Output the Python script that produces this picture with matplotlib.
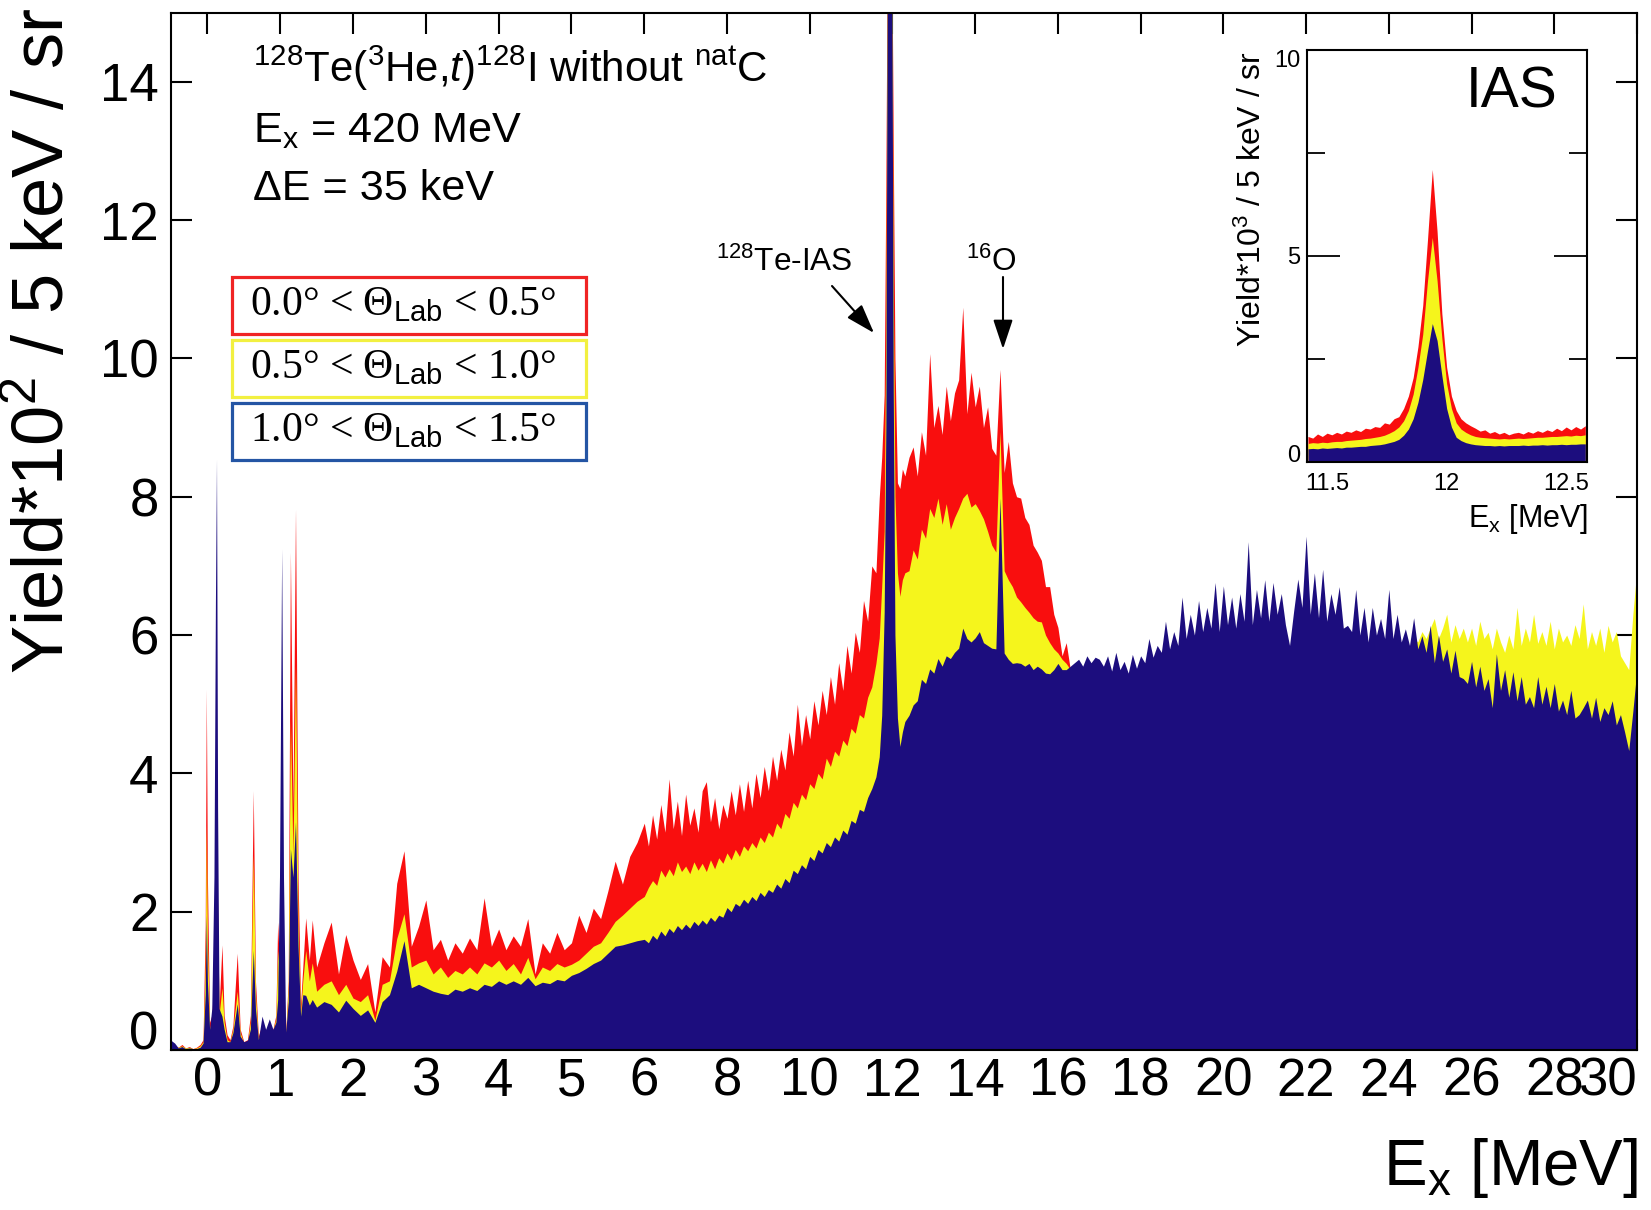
import numpy as np
import matplotlib.pyplot as plt
from matplotlib import font_manager
from matplotlib.patches import Rectangle


def has_font(name):
    try:
        font_manager.findfont(name, fallback_to_default=False)
        return True
    except ValueError:
        return False


HAVE_NARROW = has_font('Liberation Sans Narrow')
NARROW = 'Liberation Sans Narrow' if HAVE_NARROW else 'Liberation Sans'
NSCALE = 1.0 if HAVE_NARROW else 0.84

plt.rcParams['font.family'] = ['Liberation Sans', 'DejaVu Sans']
plt.rcParams['mathtext.fontset'] = 'custom'
plt.rcParams['mathtext.rm'] = 'Liberation Sans'
plt.rcParams['mathtext.it'] = 'Liberation Sans:italic'
plt.rcParams['mathtext.sf'] = 'Liberation Sans'
plt.rcParams['mathtext.bf'] = 'Liberation Sans:bold'

# ---------------- main spectrum data (Yield * 10^2 / 5 keV / sr) ----------------
# low-lying region, explicit energies (MeV)
ex_low = [-0.50, -0.45, -0.40, -0.35, -0.30, -0.25, -0.20, -0.15, -0.10, -0.06,
          -0.03, -0.015, 0.00, 0.03, 0.06, 0.09, 0.11, 0.125, 0.14, 0.16,
          0.20, 0.23, 0.27, 0.31, 0.35, 0.41, 0.45, 0.50, 0.55, 0.59,
          0.63, 0.66, 0.70, 0.75, 0.80, 0.85, 0.90, 0.94, 0.965, 0.99,
          1.02, 1.045, 1.075, 1.11, 1.14, 1.175, 1.21, 1.245, 1.28, 1.31,
          1.35, 1.40, 1.44]
red_low = [0.10, 0.06, 0.04, 0.08, 0.03, 0.05, 0.02, 0.04, 0.08, 0.15,
           1.80, 5.22, 2.50, 0.40, 0.50, 1.00, 3.00, 4.00, 2.00, 0.60,
           1.52, 0.50, 0.22, 0.15, 0.35, 1.40, 0.30, 0.12, 0.15, 0.50,
           3.75, 1.00, 0.20, 0.37, 0.20, 0.30, 0.30, 0.50, 1.85, 1.20,
           1.50, 1.00, 0.26, 1.00, 7.20, 3.50, 7.82, 2.50, 0.67, 1.20,
           1.91, 1.30, 1.88]
yel_low = [0.08, 0.05, 0.04, 0.06, 0.03, 0.04, 0.02, 0.03, 0.06, 0.12,
           1.20, 3.26, 1.60, 0.30, 0.45, 1.00, 3.00, 4.00, 2.00, 0.50,
           0.90, 0.40, 0.15, 0.12, 0.30, 0.85, 0.25, 0.10, 0.12, 0.40,
           2.82, 0.80, 0.15, 0.30, 0.18, 0.25, 0.28, 0.45, 1.44, 1.10,
           1.50, 1.00, 0.22, 0.90, 4.77, 2.80, 5.57, 1.80, 0.55, 1.00,
           1.44, 1.00, 1.26]
blu_low = [0.14, 0.10, 0.03, 0.05, 0.02, 0.03, 0.02, 0.02, 0.04, 0.10,
           0.80, 1.95, 1.00, 0.30, 0.60, 2.50, 6.45, 8.55, 3.50, 0.60,
           0.49, 0.30, 0.12, 0.12, 0.25, 0.67, 0.20, 0.12, 0.14, 0.30,
           1.44, 0.60, 0.15, 0.49, 0.30, 0.45, 0.30, 0.40, 0.73, 2.50,
           7.25, 2.50, 0.26, 0.70, 2.91, 2.50, 3.30, 1.50, 0.49, 0.80,
           0.79, 0.65, 0.73]

# 1.5 - 5.9 MeV, 0.1 MeV steps
ex_b = np.round(np.arange(1.5, 5.95, 0.1), 2)
red_b = [1.20, 1.55, 1.85, 1.10, 1.67, 1.30, 1.02, 1.25, 0.55, 1.35,
         1.20, 2.41, 2.88, 1.50, 1.79, 2.17, 1.45, 1.60, 1.30, 1.55,
         1.40, 1.62, 1.45, 2.20, 1.50, 1.75, 1.45, 1.65, 1.50, 1.90,
         1.10, 1.55, 1.40, 1.70, 1.45, 1.55, 1.95, 1.70, 2.05, 1.90,
         2.30, 2.73, 2.40, 2.80, 3.00]
yel_b = [0.85, 0.95, 1.00, 0.80, 0.95, 0.75, 0.70, 0.80, 0.43, 0.95,
         1.00, 1.61, 1.97, 1.20, 1.26, 1.30, 1.10, 1.20, 1.05, 1.15,
         1.10, 1.20, 1.10, 1.26, 1.20, 1.30, 1.15, 1.25, 1.10, 1.34,
         1.03, 1.20, 1.15, 1.25, 1.20, 1.24, 1.30, 1.40, 1.50, 1.55,
         1.70, 1.86, 1.95, 2.05, 2.15]
blu_b = [0.62, 0.70, 0.66, 0.55, 0.72, 0.60, 0.50, 0.58, 0.40, 0.70,
         0.80, 1.14, 1.58, 0.90, 0.95, 0.90, 0.85, 0.82, 0.80, 0.88,
         0.85, 0.90, 0.86, 0.95, 0.92, 1.00, 0.95, 1.00, 0.95, 1.05,
         0.93, 0.98, 0.96, 1.02, 1.00, 1.08, 1.12, 1.18, 1.25, 1.30,
         1.40, 1.50, 1.52, 1.55, 1.58]

# 6.0 - 11.6 MeV, 0.1 MeV steps
ex_c = np.round(np.arange(6.0, 11.65, 0.1), 2)
red_c = [3.28, 2.95, 3.40, 3.05, 3.55, 3.15, 3.92, 3.20, 3.60, 3.10,
         3.70, 3.25, 3.50, 3.15, 3.75, 3.88, 3.30, 3.65, 3.20, 3.55,
         3.35, 3.75, 3.40, 3.85, 3.45, 3.90, 3.50, 4.00, 3.65, 4.10,
         3.75, 4.25, 3.90, 4.35, 4.05, 4.60, 4.25, 5.00, 4.40, 4.85,
         4.50, 5.05, 4.70, 5.20, 4.85, 5.40, 5.00, 5.60, 5.20, 5.85,
         5.45, 6.04, 5.75, 6.50, 6.20, 7.00, 6.90]
yel_c = [2.22, 2.35, 2.45, 2.38, 2.60, 2.50, 2.62, 2.52, 2.72, 2.58,
         2.66, 2.55, 2.72, 2.60, 2.70, 2.58, 2.75, 2.62, 2.78, 2.70,
         2.85, 2.75, 2.90, 2.80, 2.95, 2.88, 3.00, 2.92, 3.08, 3.00,
         3.15, 3.08, 3.28, 3.20, 3.42, 3.35, 3.58, 3.50, 3.70, 3.62,
         3.85, 3.78, 4.00, 3.92, 4.22, 4.10, 4.32, 4.25, 4.48, 4.40,
         4.65, 4.58, 4.85, 4.80, 5.10, 5.25, 5.59]
blu_c = [1.60, 1.55, 1.66, 1.60, 1.72, 1.65, 1.76, 1.70, 1.80, 1.74,
         1.82, 1.76, 1.86, 1.80, 1.88, 1.82, 1.92, 1.86, 1.95, 1.92,
         2.06, 2.00, 2.12, 2.08, 2.18, 2.12, 2.22, 2.16, 2.28, 2.22,
         2.32, 2.28, 2.40, 2.34, 2.48, 2.42, 2.60, 2.55, 2.68, 2.62,
         2.80, 2.74, 2.90, 2.85, 3.00, 2.94, 3.08, 3.02, 3.18, 3.12,
         3.32, 3.28, 3.48, 3.45, 3.65, 3.78, 3.95]

# IAS peak region (goes off scale)
ex_ias = [11.68, 11.74, 11.80, 11.84, 11.88, 11.93, 11.98, 12.02, 12.06,
          12.12, 12.18, 12.24, 12.30]
red_ias = [7.98, 8.57, 9.47, 12.5, 16.5, 16.5, 16.5, 13.0, 10.0, 8.20, 8.12, 8.40, 8.30]
yel_ias = [5.96, 6.70, 7.50, 10.5, 16.5, 16.5, 16.5, 11.0, 8.00, 6.90, 6.56, 6.80, 6.90]
blu_ias = [4.24, 4.84, 6.33, 9.00, 16.5, 16.5, 16.5, 9.50, 6.00, 4.80, 4.39, 4.60, 4.75]

# 12.4 - 17.0 MeV, 0.1 MeV steps (GT resonance, 16O line at 14.6)
ex_e = np.round(np.arange(12.4, 17.05, 0.1), 2)
red_e = [8.57, 8.72, 8.30, 8.94, 8.60, 10.07, 9.00, 9.32, 8.90, 9.60,
         9.10, 9.50, 9.69, 10.74, 9.20, 9.80, 9.30, 9.60, 9.00, 9.30,
         8.70, 8.60, 9.84, 8.35, 8.80, 8.20, 8.00, 7.98, 7.70, 7.60,
         7.30, 7.20, 7.08, 6.70, 6.70, 6.30, 6.11, 5.70, 5.89, 5.50,
         5.40, 5.35, 5.30, 5.35, 5.30, 5.35, 5.30]
yel_e = [6.93, 7.23, 7.10, 7.53, 7.40, 7.83, 7.70, 7.98, 7.60, 7.90,
         7.53, 7.70, 7.83, 7.98, 8.05, 7.85, 7.90, 7.80, 7.68, 7.50,
         7.30, 7.20, 8.94, 6.93, 6.80, 6.70, 6.55, 6.48, 6.40, 6.33,
         6.25, 6.20, 6.19, 6.00, 5.89, 5.80, 5.74, 5.65, 5.59, 5.50,
         5.35, 5.30, 5.25, 5.30, 5.25, 5.30, 5.25]
blu_e = [4.84, 4.99, 5.05, 5.36, 5.30, 5.51, 5.45, 5.66, 5.55, 5.70,
         5.66, 5.75, 5.81, 6.10, 5.95, 5.90, 5.96, 6.05, 5.89, 5.85,
         5.81, 5.80, 7.98, 5.74, 5.65, 5.59, 5.60, 5.59, 5.55, 5.59,
         5.50, 5.55, 5.51, 5.45, 5.44, 5.50, 5.59, 5.50, 5.50, 5.55,
         5.60, 5.65, 5.55, 5.70, 5.60, 5.68, 5.65]

# 17.1 - 30.0 MeV, 0.1 MeV steps (yellow and blue)
ex_f = np.round(np.arange(17.1, 30.05, 0.1), 2)
yel_f = [5.40, 5.45, 5.40, 5.45, 5.40, 5.45, 5.40, 5.45, 5.45, 5.50,
         5.50, 5.55, 5.55, 5.60, 5.60, 5.65, 5.65, 5.70, 5.70, 5.75,
         5.80, 5.80, 5.85, 5.85, 5.90, 5.90, 5.90, 5.95, 5.95, 5.95,
         6.00, 6.00, 6.00, 6.00, 6.00, 6.00, 6.00, 6.00, 6.05, 6.05,
         6.05, 6.05, 6.05, 6.05, 6.00, 5.75, 6.05, 6.05, 6.05, 6.05,
         6.05, 6.05, 6.05, 6.05, 6.00, 6.00, 6.00, 6.00, 5.95, 5.95,
         5.90, 5.90, 5.85, 5.85, 5.80, 5.85, 5.85, 5.85, 5.85, 5.85,
         5.85, 5.85, 5.85, 5.90, 5.80, 5.95, 5.90, 6.05, 5.95, 6.10,
         6.24, 5.95, 6.10, 6.30, 5.90, 6.15, 5.95, 6.10, 5.90, 6.10,
         5.85, 6.20, 5.95, 6.04, 5.80, 6.10, 5.90, 5.75, 6.00, 5.80,
         6.40, 5.85, 6.10, 5.90, 6.30, 5.88, 6.05, 5.85, 6.20, 5.80,
         6.10, 5.90, 6.00, 5.85, 6.15, 5.95, 6.45, 5.80, 6.05, 5.85,
         6.10, 5.75, 6.14, 5.90, 6.05, 5.70, 5.60, 5.50, 6.30, 6.97]
blu_f = [5.55, 5.70, 5.48, 5.75, 5.50, 5.62, 5.45, 5.72, 5.52, 5.70,
         5.60, 5.95, 5.68, 5.85, 5.75, 6.20, 5.80, 6.05, 5.85, 6.55,
         5.95, 6.30, 6.00, 6.50, 6.05, 6.40, 6.10, 6.76, 6.05, 6.71,
         6.15, 6.55, 6.10, 6.60, 6.20, 7.35, 6.15, 6.66, 6.25, 6.80,
         6.20, 6.76, 6.30, 6.60, 6.15, 5.85, 6.35, 6.81, 6.40, 7.43,
         6.30, 6.90, 6.25, 6.95, 6.20, 6.60, 6.30, 6.70, 6.10, 6.14,
         6.05, 6.66, 6.00, 6.40, 5.90, 6.40, 6.00, 6.24, 5.95, 6.66,
         5.95, 6.30, 5.90, 6.09, 5.85, 6.25, 5.80, 5.99, 5.75, 6.14,
         5.60, 6.00, 5.62, 5.80, 5.45, 5.78, 5.40, 5.37, 5.30, 5.62,
         5.25, 5.55, 5.20, 5.37, 4.95, 5.73, 5.20, 5.50, 5.10, 5.47,
         5.05, 5.40, 5.00, 5.11, 4.95, 5.40, 5.00, 5.26, 4.95, 5.30,
         4.90, 5.06, 4.85, 5.20, 4.80, 4.85, 4.95, 5.06, 4.80, 5.10,
         4.75, 4.95, 4.85, 5.05, 4.70, 4.85, 4.60, 4.33, 4.90, 5.52]
# red above 17 MeV (mostly hidden), 0.2 MeV steps
ex_fr = np.round(np.arange(17.2, 30.05, 0.2), 2)
red_f = [5.30, 5.35, 5.25, 5.40, 5.35, 5.45, 5.45, 5.55, 5.55, 5.65,
         5.65, 5.75, 5.75, 5.80, 5.85, 5.90, 5.85, 5.95, 5.85, 5.95,
         5.90, 5.90, 5.65, 5.95, 6.05, 5.95, 6.05, 5.90, 5.95, 5.75,
         5.80, 5.80, 5.75, 5.75, 5.80, 5.80, 5.70, 5.60, 5.60, 5.55,
         5.60, 5.55, 5.60, 5.55, 5.60, 5.55, 5.60, 5.55, 5.60, 5.55,
         5.60, 5.55, 5.60, 5.55, 5.60, 5.55, 5.60, 5.55, 5.60, 5.50,
         5.50, 5.45, 5.45, 5.40, 5.40]

# ---------------- inset (IAS, Yield * 10^3) ----------------
ex_in = np.round(np.arange(11.42, 12.59, 0.02), 2)
red_in = [0.62, 0.58, 0.68, 0.62, 0.70, 0.66, 0.72, 0.68, 0.75, 0.72,
          0.78, 0.74, 0.82, 0.80, 0.86, 0.84, 0.95, 0.92, 1.05, 1.10,
          1.30, 1.60, 2.05, 2.80, 3.80, 5.40, 7.10, 5.60, 3.60, 2.30,
          1.60, 1.25, 1.05, 0.95, 0.88, 0.82, 0.75, 0.78, 0.70, 0.74,
          0.68, 0.72, 0.66, 0.70, 0.72, 0.68, 0.74, 0.70, 0.76, 0.72,
          0.78, 0.74, 0.82, 0.76, 0.85, 0.78, 0.86, 0.80, 0.88]
yel_in = [0.45, 0.47, 0.46, 0.48, 0.47, 0.49, 0.50, 0.50, 0.52, 0.53,
          0.54, 0.55, 0.57, 0.58, 0.60, 0.62, 0.65, 0.70, 0.76, 0.85,
          1.00, 1.25, 1.65, 2.30, 3.10, 4.40, 5.45, 4.40, 3.00, 1.90,
          1.30, 0.95, 0.80, 0.72, 0.66, 0.62, 0.60, 0.59, 0.58, 0.57,
          0.56, 0.57, 0.56, 0.57, 0.58, 0.57, 0.58, 0.59, 0.60, 0.60,
          0.61, 0.62, 0.62, 0.63, 0.64, 0.63, 0.65, 0.64, 0.66]
blu_in = [0.32, 0.33, 0.32, 0.34, 0.33, 0.34, 0.35, 0.34, 0.36, 0.36,
          0.37, 0.38, 0.38, 0.40, 0.41, 0.42, 0.44, 0.47, 0.50, 0.55,
          0.65, 0.80, 1.05, 1.45, 2.00, 2.70, 3.36, 2.95, 2.10, 1.30,
          0.85, 0.60, 0.52, 0.47, 0.44, 0.42, 0.41, 0.40, 0.40, 0.39,
          0.40, 0.39, 0.40, 0.40, 0.40, 0.41, 0.40, 0.41, 0.41, 0.42,
          0.41, 0.42, 0.42, 0.43, 0.42, 0.43, 0.43, 0.44, 0.44]

xticks = [0, 1, 2, 3, 4, 5, 6, 8, 10, 12, 14, 16, 18, 20, 22, 24, 26, 28, 30]
yticks = [0, 2, 4, 6, 8, 10, 12, 14]
legend_labels = [r'0.0° < Θ$_{\mathsf{Lab}}$ < 0.5°',
                 r'0.5° < Θ$_{\mathsf{Lab}}$ < 1.0°',
                 r'1.0° < Θ$_{\mathsf{Lab}}$ < 1.5°']

RED = '#f90e0e'
YEL = '#f5f51c'
BLU = '#1c0d7e'
edge_colors = ['#f02424', '#f2f040', '#2455a4']

ex_main = np.concatenate([ex_low, ex_b, ex_c, ex_ias, ex_e])
ex_yb = np.concatenate([ex_main, ex_f])
ex_r = np.concatenate([ex_main, ex_fr])
red = np.concatenate([red_low, red_b, red_c, red_ias, red_e, red_f])
yel = np.concatenate([yel_low, yel_b, yel_c, yel_ias, yel_e, yel_f])
blu = np.concatenate([blu_low, blu_b, blu_c, blu_ias, blu_e, blu_f])

# x axis is stretched below 6 MeV
K = 72.7 / 41.3


def fwd(e):
    e = np.asarray(e, float)
    return np.where(e < 6, e * K, 6 * K + (e - 6))


def inv(u):
    u = np.asarray(u, float)
    return np.where(u < 6 * K, u / K, 6 + (u - 6 * K))


W, H = 1651, 1210
fig = plt.figure(figsize=(W / 100, H / 100), dpi=100)
ax = fig.add_axes([171 / W, 1 - 1050 / H, (1637 - 171) / W, (1050 - 12.6) / H])
ax.set_xscale('function', functions=(fwd, inv))

ax.fill_between(ex_r, 0, red, color=RED, lw=0, zorder=1)
ax.fill_between(ex_yb, 0, yel, color=YEL, lw=0, zorder=2)
ax.fill_between(ex_yb, 0, blu, color=BLU, lw=0, zorder=3)

ax.set_xlim(-0.5, 30)
ax.set_ylim(0, 15)
ax.set_xticks(xticks, [str(t) for t in xticks])
ax.set_yticks(yticks, [str(t) for t in yticks])
ax.tick_params(axis='both', direction='in', top=True, right=True,
               length=15, width=1.5, labelsize=38)
ax.tick_params(axis='x', pad=5)
ax.tick_params(axis='y', pad=9)
ax.xaxis.get_ticklabels()[-1].set_ha('right')
ax.yaxis.get_ticklabels()[0].set_va('baseline')
for s in ax.spines.values():
    s.set_linewidth(1.5)
    s.set_zorder(5)

fig.text(44 / W, 1 - 674 / H, r'Yield*10$^{2}$ / 5 keV / sr', rotation=90,
         ha='center', va='bottom', fontsize=52)
fig.text(1638 / W, 1 - 1185 / H, r'E$_{\mathrm{x}}$ [MeV]', ha='right',
         va='baseline', fontsize=56 * NSCALE, family=NARROW)

fig.text(253 / W, 1 - 82 / H,
         r'$^{128}$Te($^{3}$He,$\mathit{t}$)$^{128}$I without $^{\mathrm{nat}}$C',
         fontsize=36 * NSCALE, va='baseline', family=NARROW)
fig.text(253 / W, 1 - 142 / H, r'E$_{\mathrm{x}}$ = 420 MeV',
         fontsize=37 * NSCALE, va='baseline', family=NARROW)
fig.text(253 / W, 1 - 200 / H, 'ΔE = 35 keV',
         fontsize=37 * NSCALE, va='baseline', family=NARROW)

# legend boxes
for i, (lab, ec) in enumerate(zip(legend_labels, edge_colors)):
    top = 277 + 63 * i
    fig.add_artist(Rectangle((232 / W, 1 - (top + 57) / H), 354 / W, 57 / H,
                             transform=fig.transFigure, facecolor='white',
                             edgecolor=ec, lw=2.3, zorder=10))
    fig.text(250 / W, 1 - (top + 38) / H, lab, fontsize=30, va='baseline',
             family=['Liberation Serif', 'DejaVu Serif'], zorder=11)

# peak labels and arrows
fig.text(784 / W, 1 - 271 / H, r'$^{128}$Te-IAS', fontsize=27 * NSCALE,
         ha='center', va='baseline', family=NARROW)
fig.text(991 / W, 1 - 271 / H, r'$^{16}$O', fontsize=27 * NSCALE,
         ha='center', va='baseline', family=NARROW)
arrow = dict(arrowstyle='-|>,head_length=0.9,head_width=0.3', color='black',
             lw=1.5, mutation_scale=20, shrinkA=0, shrinkB=0)
ax.annotate('', xy=(874, H - 333), xytext=(832, H - 286),
            xycoords='figure pixels', textcoords='figure pixels', arrowprops=arrow)
ax.annotate('', xy=(1003, H - 349), xytext=(1003, H - 277),
            xycoords='figure pixels', textcoords='figure pixels', arrowprops=arrow)

# inset
ai = fig.add_axes([1307 / W, 1 - 462 / H, (1587 - 1307) / W, (462 - 50) / H])
ai.fill_between(ex_in, 0, red_in, color=RED, lw=0)
ai.fill_between(ex_in, 0, yel_in, color=YEL, lw=0)
ai.fill_between(ex_in, 0, blu_in, color=BLU, lw=0)
ai.set_xlim(11.416, 12.587)
ai.set_ylim(0, 10)
ai.set_xticks([11.5, 12, 12.5], ['11.5', '12', '12.5'])
ai.set_xticks([12], minor=True)
ai.set_yticks([0, 5, 10], ['0', '5', '10'])
ai.set_yticks([2.5, 7.5], minor=True)
ai.tick_params(axis='x', which='major', length=0, labelsize=17, pad=8)
ai.tick_params(axis='x', which='minor', direction='in', top=True, bottom=True,
               length=21, width=1.3)
ai.tick_params(axis='y', which='major', direction='in', left=True, right=True,
               length=24, width=1.3, labelsize=17, pad=5)
ai.tick_params(axis='y', which='minor', direction='in', left=True, right=True,
               length=13, width=1.3)
ai.yaxis.get_ticklabels()[0].set_va('baseline')
ai.yaxis.get_ticklabels()[-1].set_va('top')
for s in ai.spines.values():
    s.set_linewidth(1.5)
    s.set_zorder(5)
ai.text(0.895, 0.86, 'IAS', transform=ai.transAxes, ha='right', va='baseline',
        fontsize=41)
fig.text(1252 / W, 1 - 347 / H, r'Yield*10$^{3}$ / 5 keV / sr', rotation=90,
         ha='center', va='bottom', fontsize=23)
fig.text(1588 / W, 1 - 527 / H, r'E$_{\mathrm{x}}$ [MeV]', ha='right',
         va='baseline', fontsize=22)

fig.savefig('out.png', dpi=100)
